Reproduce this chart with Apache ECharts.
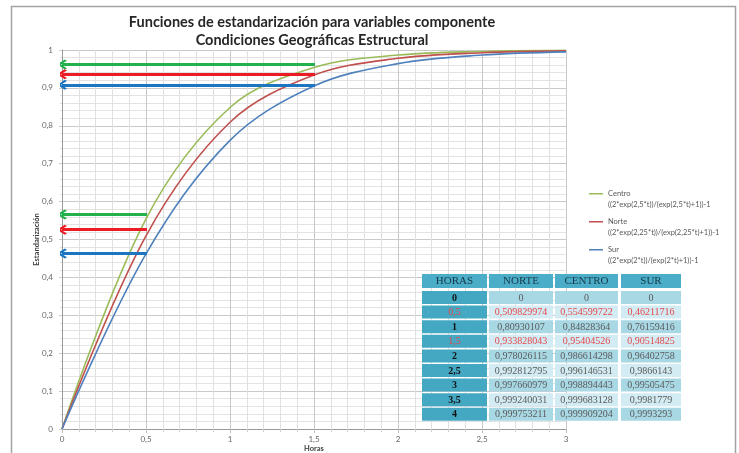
<!DOCTYPE html>
<html><head><meta charset="utf-8">
<script src="https://cdn.jsdelivr.net/npm/echarts@6/dist/echarts.min.js"></script>
<style>html,body{margin:0;padding:0;background:#fff}#c{width:739px;height:453px}</style>
</head><body><div id="c"></div>
<script>
// ---- data ----
const horas = [0, 0.5, 1, 1.5, 2, 2.5, 3];
const norte = [0, 0.509829974, 0.80930107, 0.933828043, 0.978026115, 0.992812795, 0.997660979];
const centro = [0, 0.554599722, 0.84828364, 0.95404526, 0.986614298, 0.996146531, 0.998894443];
const sur = [0, 0.46211716, 0.76159416, 0.90514825, 0.96402758, 0.9866143, 0.99505475];
const seriesNames = ['Centro', 'Norte', 'Sur'];
const formulas = ['((2*exp(2,5*t))/(exp(2,5*t)+1))-1', '((2*exp(2,25*t))/(exp(2,25*t)+1))-1', '((2*exp(2*t))/(exp(2*t)+1))-1'];
// arrows: start x, y level per zone
const arrowLowX = 0.506, arrowHighX = 1.506;
const arrowLowY = [0.566, 0.526, 0.463];   // Centro, Norte, Sur
const arrowHighY = [0.962, 0.936, 0.908];
// table
const tableHead = ['HORAS', 'NORTE', 'CENTRO', 'SUR'];
const tableHoras = ['0', '0,5', '1', '1,5', '2', '2,5', '3', '3,5', '4'];
const tableNorte = ['0', '0,509829974', '0,80930107', '0,933828043', '0,978026115', '0,992812795', '0,997660979', '0,999240031', '0,999753211'];
const tableCentro = ['0', '0,554599722', '0,84828364', '0,95404526', '0,986614298', '0,996146531', '0,998894443', '0,999683128', '0,999909204'];
const tableSur = ['0', '0,46211716', '0,76159416', '0,90514825', '0,96402758', '0,9866143', '0,99505475', '0,9981779', '0,9993293'];
const highlightRows = [1, 3];

// ---- styles ----
const curveColors = ['#9bbb59', '#c0504d', '#4f81bd'];
const arrowColors = ['#22b14c', '#ec1c24', '#1b75c0'];
const chev = 'path://M0,0 L10,9 L7.5,11.5 L0,4.5 L-7.5,11.5 L-10,9 Z';
const legendIcon = 'path://M0,0 L0.01,0 L0,0.01 Z M0,5 L14,5 L14,6.6 L0,6.6 Z M0,22 L0.01,22 L0,21.99 Z';

const chart = echarts.init(document.getElementById('c'));
const values = [centro, norte, sur];
const series = [];
values.forEach((v, i) => {
  series.push({
    name: seriesNames[i] + '\n' + formulas[i],
    type: 'line', smooth: 0.35, showSymbol: false,
    data: horas.map((h, j) => [h, v[j]]),
    lineStyle: { color: curveColors[i], width: 1.6 },
    itemStyle: { color: curveColors[i] },
    z: 3
  });
});
const arrowData = [];
arrowLowY.forEach((y, i) => arrowData.push({ coords: [[arrowLowX, y], [0, y]], lineStyle: { color: arrowColors[i] } }));
arrowHighY.forEach((y, i) => arrowData.push({ coords: [[arrowHighX, y], [0, y]], lineStyle: { color: arrowColors[i] } }));
series.push({
  type: 'lines', coordinateSystem: 'cartesian2d', z: 4,
  symbol: ['none', chev], symbolSize: [10, 10],
  lineStyle: { width: 3, opacity: 1 },
  data: arrowData
});

// table graphics
const colX = [0, 67, 133, 199];
const colW = [65, 64, 63, 60];
const headH = 14, rowTop = 17, rowPitch = 14.6, rowH = 13;
const tcols = [tableHoras, tableNorte, tableCentro, tableSur];
const children = [];
const Z = 100;
tableHead.forEach((t, c) => {
  children.push({ type: 'rect', z: Z, shape: { x: colX[c], y: 0, width: colW[c], height: headH }, style: { fill: '#4badc7' } });
  children.push({ type: 'text', z: Z + 1, x: colX[c] + colW[c] / 2, y: headH / 2 + 0.5, style: { text: t, fill: '#17394a', font: '11px "Liberation Serif"', align: 'center', verticalAlign: 'middle' } });
});
tableHoras.forEach((h, r) => {
  const y = rowTop + r * rowPitch;
  const hi = highlightRows.indexOf(r) >= 0;
  for (let c = 0; c < 4; c++) {
    const fill = c === 0 ? '#45a8c3' : (r % 2 === 0 ? '#a9d8e5' : '#d3ebf2');
    children.push({ type: 'rect', z: Z, shape: { x: colX[c], y: y, width: colW[c], height: rowH }, style: { fill: fill } });
    children.push({ type: 'text', z: Z + 1, x: colX[c] + colW[c] / 2, y: y + rowH / 2 + 0.5,
      style: { text: tcols[c][r], fill: hi ? '#e5474b' : (c === 0 ? '#111' : '#5a5a5a'),
        font: (c === 0 && !hi ? 'bold ' : '') + '10px "Liberation Serif"', align: 'center', verticalAlign: 'middle' } });
  }
});

const dec = v => String(Math.round(v * 10) / 10).replace('.', ',');

chart.setOption({
  animation: false,
  backgroundColor: '#fff',
  title: {
    text: 'Funciones de estandarización para variables componente\nCondiciones Geográficas Estructural',
    left: 307, top: 8, textAlign: 'center',
    textStyle: { fontFamily: 'Lato', fontWeight: 'bold', fontSize: 14.5, color: '#262626', lineHeight: 18 }
  },
  grid: { left: 62, right: 173, top: 50, bottom: 24, containLabel: false, outerBoundsMode: 'none' },
  legend: {
    orient: 'vertical', left: 584, top: 183, itemGap: 6,
    itemWidth: 14, itemHeight: 22, icon: legendIcon,
    data: series.slice(0, 3).map(s => s.name),
    textStyle: { fontFamily: 'Lato', fontSize: 7.5, color: '#595959', lineHeight: 11 },
    itemStyle: { borderWidth: 0 }
  },
  xAxis: {
    type: 'value', min: 0, max: 3, interval: 0.5,
    name: 'Horas', nameLocation: 'middle', nameGap: 15.5, nameMoveOverlap: false,
    nameTextStyle: { fontFamily: 'Lato', fontWeight: 'bold', fontSize: 7.5, color: '#404040' },
    axisLine: { show: true, lineStyle: { color: '#9a9a9a' } },
    axisTick: { show: true, length: 4, lineStyle: { color: '#bdbdbd' } },
    minorTick: { show: true, splitNumber: 5, length: 3, lineStyle: { color: '#d0d0d0' } },
    axisLabel: { formatter: dec, fontFamily: 'Lato', fontSize: 8, color: '#666', margin: 6 },
    splitLine: { show: true, lineStyle: { color: '#c9c9c9', width: 1 } },
    minorSplitLine: { show: true, lineStyle: { color: '#e0e0e0', width: 1 } }
  },
  yAxis: {
    type: 'value', min: 0, max: 1, interval: 0.1,
    name: 'Estandarización', nameLocation: 'middle', nameGap: 21, nameRotate: 90, nameMoveOverlap: false,
    nameTextStyle: { fontFamily: 'Lato', fontWeight: 'bold', fontSize: 7.5, color: '#404040' },
    axisLine: { show: true, lineStyle: { color: '#9a9a9a' } },
    axisTick: { show: true, length: 3, lineStyle: { color: '#cfcfcf' } },
    minorTick: { show: true, splitNumber: 5, length: 2, lineStyle: { color: '#dedede' } },
    axisLabel: { formatter: dec, fontFamily: 'Lato', fontSize: 8, color: '#666', margin: 9 },
    splitLine: { show: true, lineStyle: { color: '#c9c9c9', width: 1 } },
    minorSplitLine: { show: true, lineStyle: { color: '#e3e3e3', width: 1 } }
  },
  graphic: [
    { type: 'rect', left: 9, top: 4, shape: { width: 724, height: 460 }, style: { fill: 'none', stroke: '#a3a3a3', lineWidth: 1.5 }, silent: true },
    { type: 'group', left: 422, top: 274, z: Z, children: children }
  ],
  series: series
});
</script></body></html>
